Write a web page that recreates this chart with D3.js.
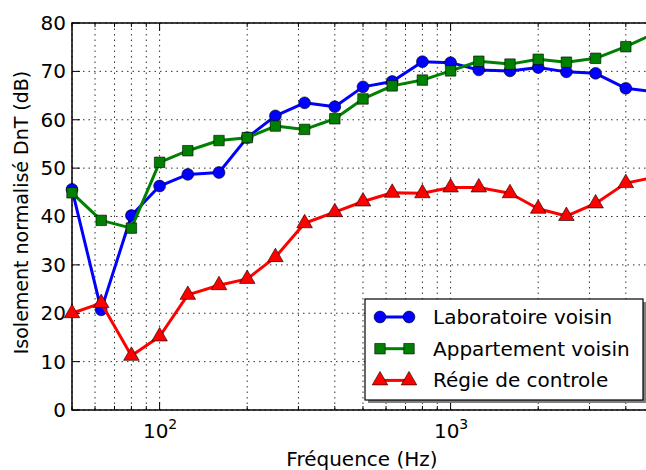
<!DOCTYPE html>
<html>
<head>
<meta charset="utf-8">
<style>
    body { margin:0; background:white; }
    svg text { font-family:'DejaVu Sans', sans-serif; }
</style>
</head>
<body>
<div id="chart"></div>
<script src="https://cdn.jsdelivr.net/npm/d3@7/dist/d3.min.js"></script>
<script>
// third-octave bands (Hz)
var freqs = [50, 63, 80, 100, 125, 160, 200, 250, 315, 400, 500, 630, 800, 1000, 1250, 1600, 2000, 2500, 3150, 4000, 5000];
var labo   = [45.6, 20.7, 40.2, 46.3, 48.7, 49.1, 56.3, 60.8, 63.5, 62.7, 66.8, 67.9, 72.0, 71.8, 70.3, 70.1, 70.8, 69.9, 69.6, 66.5, 65.8];
var appart = [44.9, 39.2, 37.6, 51.2, 53.6, 55.7, 56.3, 58.7, 58.0, 60.2, 64.3, 67.0, 68.2, 70.1, 72.1, 71.5, 72.5, 71.9, 72.7, 75.1, 77.8];
var regie  = [20.0, 22.1, 11.2, 15.2, 23.8, 25.8, 27.1, 31.6, 38.6, 40.9, 43.1, 44.9, 44.8, 46.0, 46.0, 44.8, 41.6, 40.1, 42.7, 46.9, 48.1];
var seriesNames = ["Laboratoire voisin", "Appartement voisin", "Régie de controle"];
var yTicks = [0, 10, 20, 30, 40, 50, 60, 70, 80];

var W = 646, H = 470;
var m = {left:72, top:23, right:-8, bottom:60};
var iw = W - m.left - m.right, ih = H - m.top - m.bottom;
var FS = 20;

var svg = d3.select("#chart").append("svg").attr("width", W).attr("height", H);
var g = svg.append("g").attr("transform", "translate(" + m.left + "," + m.top + ")");

var x = d3.scaleLog().domain([50, 5000]).range([0, iw]);
var y = d3.scaleLinear().domain([0, 80]).range([ih, 0]);

// grid: every minor tick on x, every 10 on y
var minor = [];
[10, 100, 1000].forEach(function(d){ for (var k = 1; k < 10; k++) { var v = d*k; if (v >= 50 && v <= 5000) minor.push(v); } });
var grid = g.append("g").attr("stroke", "#000").attr("stroke-dasharray", "1.5,4").attr("stroke-width", 1).attr("opacity", 0.8);
grid.selectAll(".vx").data(minor).enter().append("line")
    .attr("x1", function(d){ return x(d); }).attr("x2", function(d){ return x(d); })
    .attr("y1", 0).attr("y2", ih);
grid.selectAll(".hy").data(yTicks).enter().append("line")
    .attr("x1", 0).attr("x2", iw)
    .attr("y1", function(d){ return y(d); }).attr("y2", function(d){ return y(d); });

// ticks (inward, matplotlib classic)
var ticks = g.append("g").attr("stroke", "#000").attr("stroke-width", 1);
minor.forEach(function(d){
    var major = (d === 100 || d === 1000);
    var len = major ? 8 : 4;
    ticks.append("line").attr("x1", x(d)).attr("x2", x(d)).attr("y1", ih).attr("y2", ih - len);
    ticks.append("line").attr("x1", x(d)).attr("x2", x(d)).attr("y1", 0).attr("y2", len);
});
yTicks.forEach(function(d){
    ticks.append("line").attr("x1", 0).attr("x2", 8).attr("y1", y(d)).attr("y2", y(d));
});

// axis labels via d3 axes (domain/ticks hidden, text only)
var yAxis = g.append("g").call(d3.axisLeft(y).tickValues(yTicks).tickSize(0).tickPadding(6));
yAxis.attr("font-size", FS);
yAxis.select(".domain").remove();
yAxis.selectAll("text").attr("font-size", FS).attr("fill", "#000");

var xAxis = g.append("g").attr("transform", "translate(0," + ih + ")")
    .call(d3.axisBottom(x).tickValues([100, 1000]).tickSize(0).tickPadding(10).tickFormat(""));
xAxis.select(".domain").remove();
xAxis.selectAll(".tick").each(function(d){
    var t = d3.select(this).append("text").attr("y", 28).attr("text-anchor", "middle")
        .attr("font-size", FS).attr("fill", "#000");
    t.append("tspan").text("10");
    t.append("tspan").attr("dy", -9).attr("font-size", 14).text(Math.round(Math.log10(d)));
});

// spines
g.append("rect").attr("x", 0).attr("y", 0).attr("width", iw).attr("height", ih)
    .attr("fill", "none").attr("stroke", "#000").attr("stroke-width", 1.5);

svg.append("text").attr("x", m.left + (646 - m.left)/2 + 3).attr("y", 466).attr("text-anchor", "middle")
    .attr("font-size", FS).text("Fréquence (Hz)");
svg.append("text").attr("transform", "translate(28," + (m.top + ih/2 - 4) + ") rotate(-90)")
    .attr("text-anchor", "middle").attr("font-size", FS - 1).text("Isolement normalisé DnT (dB)");

var series = [
    {name: seriesNames[0], vals: labo,   color: "#0000ff", shape: "circle"},
    {name: seriesNames[1], vals: appart, color: "#008000", shape: "square"},
    {name: seriesNames[2], vals: regie,  color: "#ff0000", shape: "triangle"}
];

function marker(sel, shape, color) {
    var sym = shape === "circle" ? d3.symbol().type(d3.symbolCircle).size(110)
            : shape === "square" ? d3.symbol().type(d3.symbolSquare).size(110)
            : d3.symbol().type(d3.symbolTriangle).size(105);
    sel.attr("d", sym).attr("fill", color).attr("stroke", "#000").attr("stroke-width", 0.6);
}

var plot = g.append("g");
var line = d3.line().x(function(d){ return x(d[0]); }).y(function(d){ return y(d[1]); });
series.forEach(function(s){
    var pts = freqs.map(function(f, i){ return [f, s.vals[i]]; });
    plot.append("path").datum(pts).attr("d", line).attr("fill", "none")
        .attr("stroke", s.color).attr("stroke-width", 3).attr("stroke-linejoin", "round");
    plot.selectAll(".m" + s.shape).data(pts).enter().append("path")
        .attr("transform", function(d){ return "translate(" + x(d[0]) + "," + y(d[1]) + ")"; })
        .call(marker, s.shape, s.color);
});

// legend with shadow
var lx = 365 - m.left, ly = 299 - m.top, lw = 278, lh = 101;
g.append("rect").attr("x", lx + 3).attr("y", ly + 3).attr("width", lw).attr("height", lh).attr("fill", "#808080");
g.append("rect").attr("x", lx).attr("y", ly).attr("width", lw).attr("height", lh)
    .attr("fill", "#fff").attr("stroke", "#000").attr("stroke-width", 1.2);
series.forEach(function(s, i){
    var cy = ly + 18 + i * 31.7;
    g.append("line").attr("x1", lx + 15).attr("x2", lx + 44).attr("y1", cy).attr("y2", cy)
        .attr("stroke", s.color).attr("stroke-width", 3);
    [lx + 15, lx + 44].forEach(function(cx){
        g.append("path").attr("transform", "translate(" + cx + "," + cy + ")").call(marker, s.shape, s.color);
    });
    g.append("text").attr("x", lx + 68).attr("y", cy + 7).attr("font-size", FS).text(s.name);
});
</script>
</body>
</html>
